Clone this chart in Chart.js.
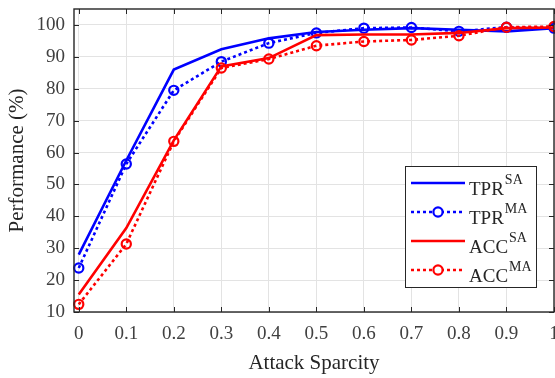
<!DOCTYPE html>
<html>
<head>
<meta charset="utf-8">
<script src="https://cdn.jsdelivr.net/npm/chart.js@4"></script>
<style>
  html, body { margin: 0; padding: 0; background: #fff; }
  #wrap { width: 555px; height: 378px; }
</style>
</head>
<body>
<div id="wrap"><canvas id="chart" width="555" height="378"></canvas></div>
<script>
  "use strict";

  const sparsity = [0, 0.1, 0.2, 0.3, 0.4, 0.5, 0.6, 0.7, 0.8, 0.9, 1];
  const xTickLabels = ["0", "0.1", "0.2", "0.3", "0.4", "0.5", "0.6", "0.7", "0.8", "0.9", "1"];
  const yTicks = [10, 20, 30, 40, 50, 60, 70, 80, 90, 100];

  const tprSA = [28, 57.5, 86, 92.4, 95.8, 97.8, 98.5, 99, 98.5, 98, 99];
  const tprMA = [23.8, 56.4, 79.5, 88.5, 94.3, 97.5, 99, 99.2, 98, 99.3, 99];
  const accSA = [15.5, 36.3, 63.8, 87, 89.6, 96.8, 97, 97, 97.5, 99, 99.2];
  const accMA = [12.4, 31.3, 63.5, 86.5, 89.3, 93.5, 94.8, 95.3, 96.6, 99.3, 99.5];

  const legendItems = [
    { name: "TPR", sup: "SA", color: "#0000ff", dotted: false },
    { name: "TPR", sup: "MA", color: "#0000ff", dotted: true },
    { name: "ACC", sup: "SA", color: "#ff0000", dotted: false },
    { name: "ACC", sup: "MA", color: "#ff0000", dotted: true }
  ];

  const axisColor = "#262626";
  const serif = "'Liberation Serif', 'Times New Roman', serif";
  const noPadding = () => ({ left: 0, top: 0, right: 0, bottom: 0 });

  const toPoints = (ys) => sparsity.map((x, i) => ({ x, y: ys[i] }));

  const lineSet = (label, ys, color, dotted, order) => ({
    label,
    data: toPoints(ys),
    borderColor: color,
    backgroundColor: "rgba(0,0,0,0)",
    borderWidth: 2.6,
    borderDash: dotted ? [3, 3] : [],
    tension: 0,
    pointRadius: dotted ? 4.6 : 0,
    pointBorderWidth: 2.2,
    pointBorderColor: color,
    pointBackgroundColor: "rgba(0,0,0,0)",
    clip: 8,
    order
  });

  // box around the axes, inward ticks on all four sides
  const framePlugin = {
    id: "frame",
    afterDatasetsDraw(chart) {
      const { ctx, chartArea: a, scales } = chart;
      ctx.save();
      ctx.strokeStyle = axisColor;
      ctx.lineWidth = 1;
      const len = 5;
      ctx.beginPath();
      scales.x.ticks.forEach((t) => {
        const px = Math.round(scales.x.getPixelForValue(t.value)) + 0.5;
        ctx.moveTo(px, a.bottom); ctx.lineTo(px, a.bottom - len);
        ctx.moveTo(px, a.top); ctx.lineTo(px, a.top + len);
      });
      scales.y.ticks.forEach((t) => {
        const py = Math.round(scales.y.getPixelForValue(t.value)) + 0.5;
        ctx.moveTo(a.left, py); ctx.lineTo(a.left + len, py);
        ctx.moveTo(a.right, py); ctx.lineTo(a.right - len, py);
      });
      ctx.stroke();
      ctx.lineWidth = 1.4;
      ctx.strokeRect(a.left, a.top, a.right - a.left, a.bottom - a.top);
      ctx.restore();
    }
  };

  const legendPlugin = {
    id: "boxLegend",
    afterDraw(chart) {
      const { ctx } = chart;
      const box = { x: 405, y: 166, w: 131, h: 121 };
      ctx.save();
      ctx.fillStyle = "#fff";
      ctx.fillRect(box.x, box.y, box.w, box.h);
      ctx.strokeStyle = axisColor;
      ctx.lineWidth = 1;
      ctx.strokeRect(box.x + 0.5, box.y + 0.5, box.w, box.h);
      legendItems.forEach((item, i) => {
        const cy = box.y + 17 + i * 29;
        ctx.strokeStyle = item.color;
        ctx.lineWidth = 2.6;
        ctx.setLineDash(item.dotted ? [3, 3] : []);
        ctx.beginPath();
        ctx.moveTo(box.x + 6, cy);
        ctx.lineTo(box.x + 60, cy);
        ctx.stroke();
        ctx.setLineDash([]);
        if (item.dotted) {
          ctx.lineWidth = 2.2;
          ctx.fillStyle = "#fff";
          ctx.beginPath();
          ctx.arc(box.x + 33, cy, 4.6, 0, Math.PI * 2);
          ctx.fill();
          ctx.stroke();
        }
        ctx.fillStyle = axisColor;
        ctx.textBaseline = "alphabetic";
        ctx.font = "19px " + serif;
        const tx = box.x + 64;
        ctx.fillText(item.name, tx, cy + 12);
        const w = ctx.measureText(item.name).width;
        ctx.font = "14px " + serif;
        ctx.fillText(item.sup, tx + w + 1, cy + 1);
      });
      ctx.restore();
    }
  };

  new Chart(document.getElementById("chart"), {
    type: "line",
    data: {
      datasets: [
        lineSet("TPR SA", tprSA, "#0000ff", false, 3),
        lineSet("TPR MA", tprMA, "#0000ff", true, 2),
        lineSet("ACC SA", accSA, "#ff0000", false, 1),
        lineSet("ACC MA", accMA, "#ff0000", true, 0)
      ]
    },
    options: {
      responsive: false,
      animation: false,
      layout: { autoPadding: false, padding: { left: 0, right: 1, top: 9, bottom: 0 } },
      plugins: { legend: { display: false }, tooltip: { enabled: false } },
      scales: {
        x: {
          type: "linear",
          min: -0.01,
          max: 1,
          afterBuildTicks: (s) => { s.ticks = sparsity.map((v) => ({ value: v })); },
          afterFit: (s) => { s.height = 66; s.paddingLeft = 0; s.paddingRight = 0; s.getPadding = noPadding; },
          grid: { color: "#e3e3e3", lineWidth: 1, drawTicks: false },
          border: { display: false },
          ticks: {
            padding: 11,
            color: "#404040",
            font: { family: serif, size: 19 },
            maxRotation: 0,
            autoSkip: false,
            callback: (v, i) => xTickLabels[i]
          },
          title: {
            display: true,
            text: "Attack Sparcity",
            color: "#262626",
            font: { family: serif, size: 21 },
            padding: { top: 0, bottom: 2 }
          }
        },
        y: {
          min: 10,
          max: 105,
          afterBuildTicks: (s) => { s.ticks = yTicks.map((v) => ({ value: v })); },
          afterFit: (s) => { s.width = 74; s.paddingTop = 0; s.paddingBottom = 0; s.getPadding = noPadding; },
          grid: { color: "#e3e3e3", lineWidth: 1, drawTicks: false },
          border: { display: false },
          ticks: {
            padding: 9,
            color: "#404040",
            font: { family: serif, size: 19 },
            autoSkip: false
          },
          title: {
            display: true,
            text: "Performance (%)",
            color: "#262626",
            font: { family: serif, size: 21 },
            padding: { top: 5, bottom: 0 }
          }
        }
      }
    },
    plugins: [framePlugin, legendPlugin]
  });
</script>
</body>
</html>
